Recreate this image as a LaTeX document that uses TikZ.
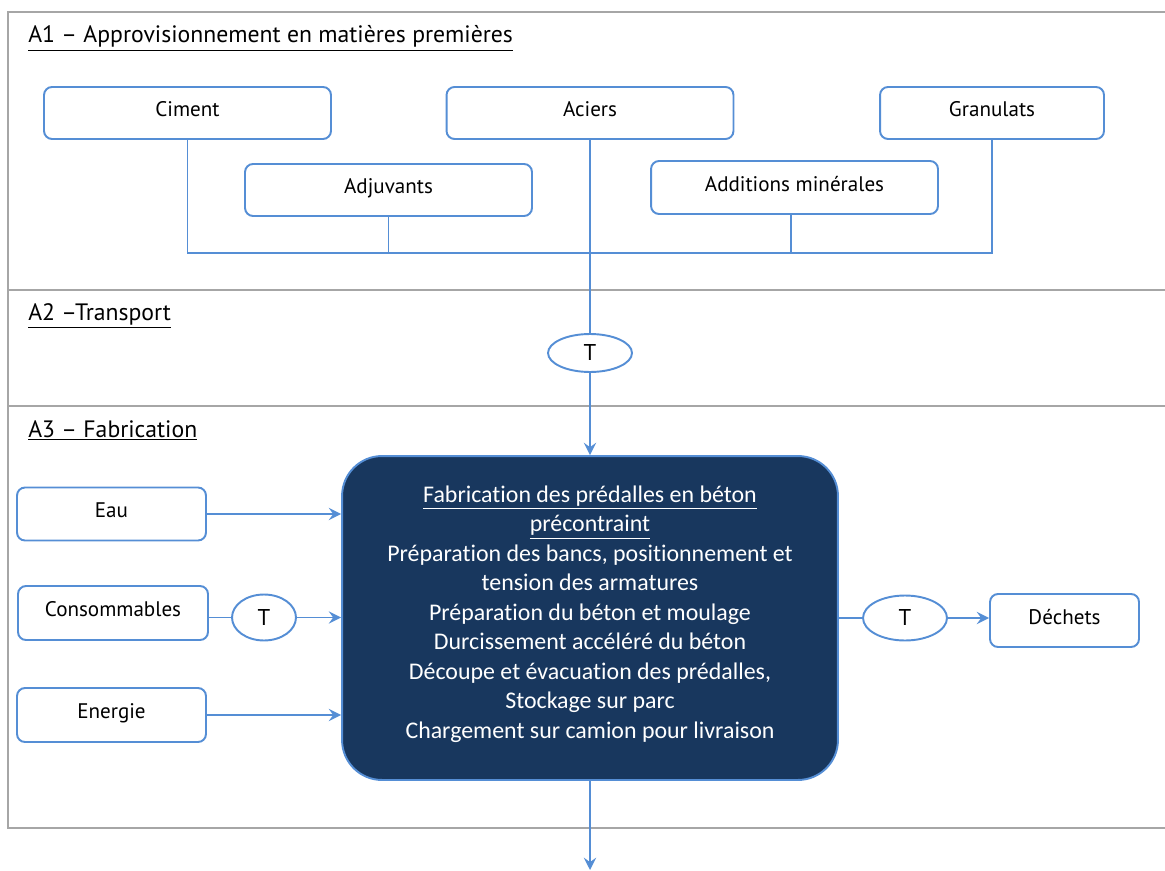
\documentclass[tikz,border=0pt]{standalone}
\usepackage{fontspec}
\setmainfont{PT Sans}
\newfontfamily\bodyfont[Ligatures=NoCommon]{Carlito}
\usepackage{tikz}
\usetikzlibrary{shapes,arrows.meta,positioning,calc}

\definecolor{linkblue}{RGB}{85,142,213}
\definecolor{fabblue}{RGB}{24,55,94}
\definecolor{framegray}{RGB}{166,166,166}

\begin{document}
\begin{tikzpicture}[
    x=0.02cm, y=-0.02cm,
    section/.style={anchor=base west, inner sep=0pt, font=\fontsize{13.5}{15}\selectfont},
    rawbox/.style={rectangle, draw=linkblue, line width=1.1pt, rounded corners=0.16cm, fill=white, font=\fontsize{12}{14}\selectfont, text depth=4pt},
    tnode/.style={ellipse, draw=linkblue, line width=1.1pt, fill=white, inner sep=0pt, font=\fontsize{13}{15}\selectfont},
    fabbox/.style={rectangle, draw=linkblue, line width=1.1pt, rounded corners=0.8cm, fill=fabblue, text=white, align=center, minimum width=9.92cm, minimum height=6.48cm, font=\bodyfont\fontsize{13.6}{16.8}\selectfont},
    link/.style={draw=linkblue, line width=1.1pt},
    arrow/.style={link, -{Stealth[length=7pt, width=7pt, inset=2.5pt]}, fill=linkblue},
    frame/.style={draw=framegray, line width=1.2pt}
]
\useasboundingbox (0,0) rectangle (1165,871);

% Frame
\draw[frame] (1165,12) -- (8,12) -- (8,828) -- (1165,828);
\draw[frame] (8,290) -- (1165,290);
\draw[frame] (8,406) -- (1165,406);

% Section titles
\node[section] (a1_title) at (28,43) {\underline{A1 – Approvisionnement en matières premières}};
\node[section] (a2_title) at (28,320) {\underline{A2 –Transport}};
\node[section] (a3_title) at (28,437) {\underline{A3 – Fabrication}};

% A1 - Raw materials
\node[rawbox, minimum width=5.74cm, minimum height=1.04cm] (ciment) at (187.5,113) {Ciment};
\node[rawbox, minimum width=5.74cm, minimum height=1.04cm] (aciers) at (590,113) {Aciers};
\node[rawbox, minimum width=4.48cm, minimum height=1.04cm] (granulats) at (992,113) {Granulats};
\node[rawbox, minimum width=5.74cm, minimum height=1.04cm] (adjuvants) at (388.5,190) {Adjuvants};
\node[rawbox, minimum width=5.74cm, minimum height=1.06cm] (additions) at (794.5,187.5) {Additions minérales};

% Collector line
\coordinate (bus) at (0,253);
\draw[link] (ciment.south) -- (ciment.south |- bus) -- (granulats.south |- bus) -- (granulats.south);
\draw[link] (adjuvants.south) -- (adjuvants.south |- bus);
\draw[link] ([xshift=-0.07cm]additions.south) -- ([xshift=-0.07cm]additions.south |- bus);

% A2 - Transport
\node[tnode, minimum width=1.68cm, minimum height=0.76cm] (t_transport) at (590,353) {T};
\draw[link] (aciers.south) -- (t_transport.north);

% A3 - Fabrication
\node[fabbox] (fab) at (590,618) {%
    \underline{Fabrication des prédalles en béton}\\
    \underline{précontraint}\\
    Préparation des bancs, positionnement et\\
    tension des armatures\\
    Préparation du béton et moulage\\
    Durcissement accéléré du béton\\
    Découpe et évacuation des prédalles,\\
    Stockage sur parc\\
    Chargement sur camion pour livraison\\[-10pt]\mbox{}};
\draw[arrow] (t_transport.south) -- (fab.north);

% Inputs
\node[rawbox, minimum width=3.78cm, minimum height=1.06cm] (eau) at (111.5,514) {Eau};
\node[rawbox, minimum width=3.8cm, minimum height=1.08cm] (conso) at (113,613) {Consommables};
\node[rawbox, minimum width=3.78cm, minimum height=1.08cm] (energie) at (111.5,715) {Energie};
\node[tnode, minimum width=1.28cm, minimum height=0.92cm] (t_conso) at (264,617.5) {T};

\draw[arrow] (eau.east) -- (eau.east -| fab.west);
\draw[link] (t_conso.west -| conso.east) -- (t_conso.west);
\draw[arrow] (t_conso.east) -- (t_conso.east -| fab.west);
\draw[arrow] (energie.east) -- (energie.east -| fab.west);

% Outputs
\node[tnode, minimum width=1.68cm, minimum height=0.9cm] (t_dechets) at (905,618) {T};
\node[rawbox, minimum width=2.98cm, minimum height=1.06cm] (dechets) at (1064.5,620.5) {Déchets};
\draw[link] (fab.east |- t_dechets.west) -- (t_dechets.west);
\draw[arrow] (t_dechets.east) -- (t_dechets.east -| dechets.west);

\coordinate (out) at (590,870);
\draw[arrow] (fab.south) -- (out);

\end{tikzpicture}
\end{document}
